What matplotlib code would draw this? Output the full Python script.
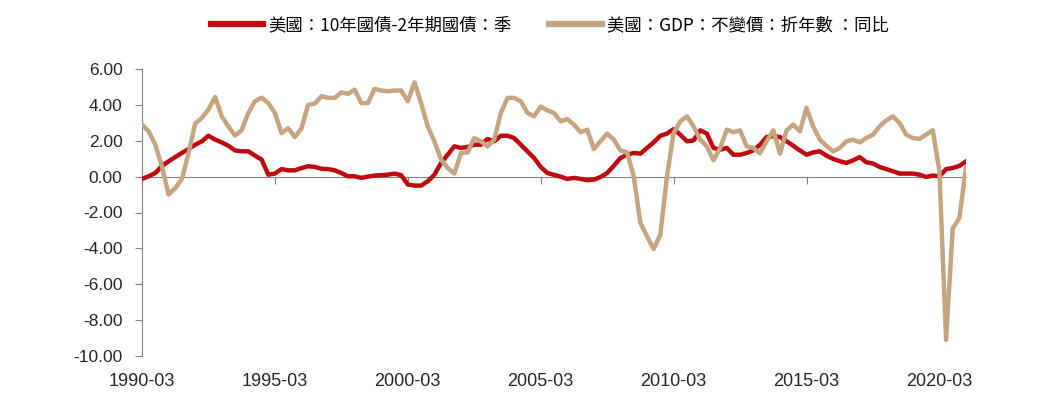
import matplotlib
matplotlib.use("Agg")
import matplotlib.pyplot as plt

# quarterly, 1990-03 .. 2021-03
quarters = [f"{1990 + i // 4}-{3 * (i % 4 + 1):02d}" for i in range(125)]

spread = [-0.13, 0.02, 0.2, 0.6, 0.85, 1.09, 1.32, 1.54, 1.78, 1.97,
          2.28, 2.06, 1.91, 1.72, 1.46, 1.41, 1.41, 1.17, 0.95, 0.11,
          0.17, 0.42, 0.35, 0.35, 0.48, 0.58, 0.54, 0.44, 0.42, 0.35,
          0.2, 0.02, 0.02, -0.07, 0.0, 0.06, 0.08, 0.11, 0.17, 0.08,
          -0.44, -0.5, -0.5, -0.26, 0.11, 0.76, 1.22, 1.69, 1.6, 1.65,
          1.78, 1.78, 2.1, 1.97, 2.28, 2.28, 2.15, 1.78, 1.41, 1.04,
          0.54, 0.2, 0.1, 0.0, -0.13, -0.07, -0.13, -0.2, -0.17, -0.02,
          0.2, 0.6, 1.04, 1.22, 1.32, 1.28, 1.6, 1.91, 2.28, 2.4,
          2.65, 2.34, 1.97, 2.02, 2.58, 2.4, 1.6, 1.5, 1.6, 1.22,
          1.22, 1.32, 1.46, 1.78, 2.21, 2.25, 2.21, 1.97, 1.72, 1.46,
          1.22, 1.35, 1.41, 1.17, 0.99, 0.86, 0.76, 0.91, 1.09, 0.8,
          0.73, 0.54, 0.42, 0.3, 0.17, 0.17, 0.17, 0.11, -0.02, 0.06,
          0.02, 0.42, 0.48, 0.6, 0.85]

gdp = [2.9, 2.53, 1.78, 0.58, -1.0, -0.64, -0.13, 1.3, 2.95, 3.27,
       3.74, 4.44, 3.36, 2.8, 2.28, 2.6, 3.55, 4.2, 4.4, 4.1,
       3.55, 2.43, 2.7, 2.21, 2.7, 4.0, 4.07, 4.48, 4.39, 4.39,
       4.7, 4.62, 4.85, 4.1, 4.1, 4.89, 4.8, 4.76, 4.8, 4.8,
       4.2, 5.26, 4.1, 2.8, 1.97, 0.95, 0.48, 0.17, 1.32, 1.35,
       2.15, 1.97, 1.69, 2.06, 3.55, 4.39, 4.39, 4.2, 3.55, 3.36,
       3.9, 3.7, 3.55, 3.08, 3.21, 2.9, 2.47, 2.62, 1.54, 1.97,
       2.4, 2.06, 1.46, 1.35, 0.02, -2.59, -3.33, -4.03, -3.24, 0.02,
       2.43, 3.08, 3.36, 2.8, 2.06, 1.69, 0.91, 1.6, 2.62, 2.47,
       2.58, 1.69, 1.6, 1.3, 1.97, 2.58, 1.28, 2.58, 2.9, 2.53,
       3.83, 2.8, 2.06, 1.72, 1.41, 1.6, 1.97, 2.06, 1.91, 2.15,
       2.34, 2.8, 3.14, 3.36, 2.99, 2.34, 2.15, 2.1, 2.34, 2.58,
       0.3, -9.1, -2.9, -2.3, 0.5]

labels = ["美國：10年國債-2年期國債：季", "美國：GDP：不變價：折年數 ：同比"]
colors = ["#BF0A0F", "#C6A47E"]
yticks = [-10, -8, -6, -4, -2, 0, 2, 4, 6]
xtick_pos = list(range(0, 125, 20))

fig = plt.figure(figsize=(10.37, 3.99), dpi=100)
ax = fig.add_axes([142 / 1037, 43 / 399, 824 / 1037, 287 / 399])

x = list(range(len(quarters)))
ax.plot(x, spread, color=colors[0], lw=3.2, label=labels[0], solid_joinstyle="round", zorder=3)
ax.plot(x, gdp, color=colors[1], lw=3.2, label=labels[1], solid_joinstyle="round", zorder=4)

ax.set_xlim(0, len(quarters) - 1)
ax.set_ylim(-10, 6)

for s in ["top", "right"]:
    ax.spines[s].set_visible(False)
ax.spines["left"].set_color("#808080")
ax.spines["bottom"].set_color("#808080")
ax.spines["bottom"].set_position(("data", 0))
ax.spines["bottom"].set_zorder(2)

ax.set_yticks(yticks)
ax.set_yticklabels([f"{v:.2f}" for v in yticks], family="Liberation Sans", fontsize=12.5, color="#262626")
ax.tick_params(axis="y", direction="out", length=5, color="#808080", pad=9)

ax.set_xticks(xtick_pos)
ax.tick_params(axis="x", direction="out", length=5, color="#808080", labelbottom=False)

sec = ax.secondary_xaxis("bottom")
sec.set_xticks(xtick_pos)
sec.set_xticklabels([quarters[i] for i in xtick_pos], family="Liberation Sans", fontsize=13, color="#262626")
sec.tick_params(length=0, pad=12)
sec.spines["bottom"].set_visible(False)

fig.legend(loc="center", bbox_to_anchor=(0.53, 0.937), ncol=2, frameon=False,
           prop={"family": ["Noto Sans CJK TC", "DejaVu Sans"], "size": 12.5},
           handlelength=3.0, handletextpad=0.3, columnspacing=2.2)
for h in fig.legends[0].get_lines():
    h.set_linewidth(4.5)

fig.savefig("out.png", dpi=100, facecolor="white")
